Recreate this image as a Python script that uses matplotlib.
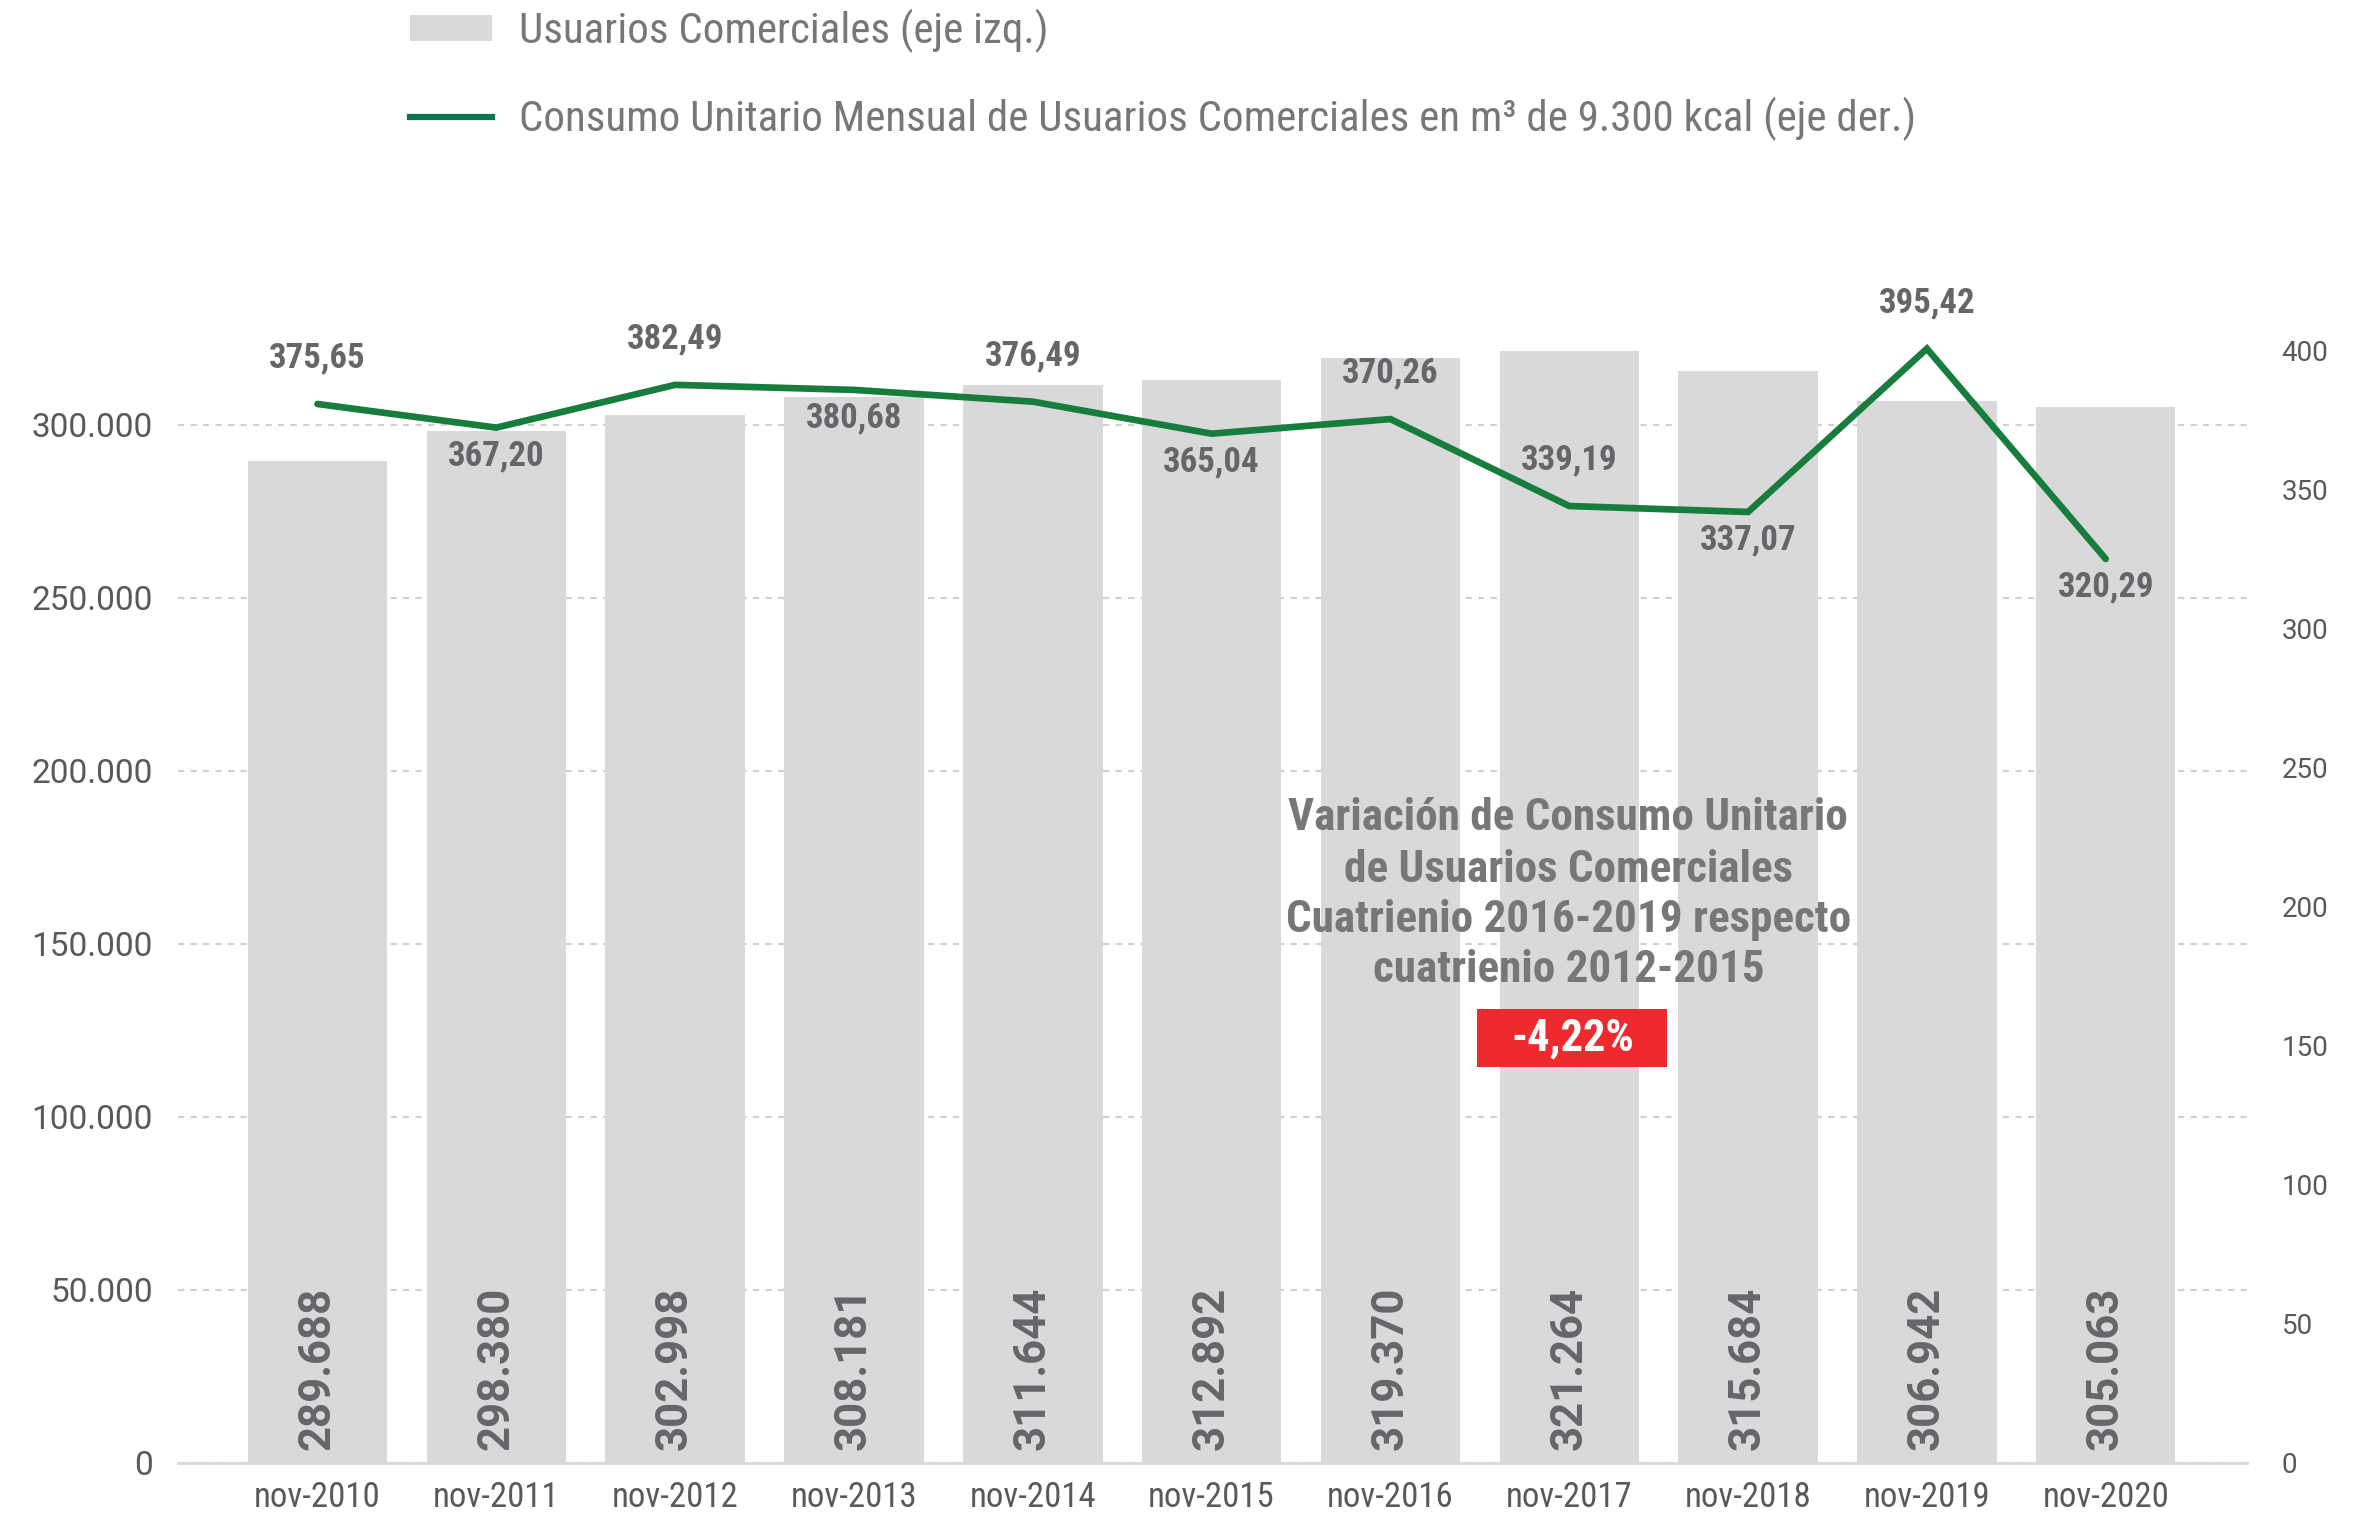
import matplotlib
matplotlib.use('Agg')
import matplotlib.pyplot as plt
from matplotlib import font_manager
from matplotlib.patches import Patch, Rectangle
from matplotlib.lines import Line2D
import numpy as np

# Data
categories = ['nov-2010', 'nov-2011', 'nov-2012', 'nov-2013', 'nov-2014', 'nov-2015',
              'nov-2016', 'nov-2017', 'nov-2018', 'nov-2019', 'nov-2020']
usuarios = [289688, 298380, 302998, 308181, 311644, 312892,
            319370, 321264, 315684, 306942, 305063]
consumo = [375.65, 367.20, 382.49, 380.68, 376.49, 365.04,
           370.26, 339.19, 337.07, 395.42, 320.29]
label_side = ['above', 'below', 'above', 'below', 'above', 'below',
              'above', 'above', 'below', 'above', 'below']
left_ticks = [0, 50000, 100000, 150000, 200000, 250000, 300000]
right_ticks = [0, 50, 100, 150, 200, 250, 300, 350, 400]
legend_labels = ['Usuarios Comerciales (eje izq.)',
                 'Consumo Unitario Mensual de Usuarios Comerciales en m³ de 9.300 kcal (eje der.)']
note_lines = ['Variación de Consumo Unitario',
              'de Usuarios Comerciales',
              'Cuatrienio 2016-2019 respecto',
              'cuatrienio 2012-2015']
variacion = '-4,22%'

# Colours / fonts
BAR = '#d9d9d9'
LINE = '#167d3d'
LEGEND_LINE = '#0b7752'
TXT = '#66666a'
TICK = '#595959'
NOTE = '#77777a'
RED = '#ee2a2f'

installed = {f.name for f in font_manager.fontManager.ttflist}
base_font = 'Roboto' if 'Roboto' in installed else 'DejaVu Sans'
cond_font = 'Roboto Condensed' if 'Roboto Condensed' in installed else base_font
plt.rcParams['font.family'] = [base_font, 'DejaVu Sans']


def miles(v):
    return f"{v:,}".replace(',', '.')


def decimal(v):
    return f"{v:.2f}".replace('.', ',')


fig = plt.figure(figsize=(23.73, 15.14), dpi=100)
ax = fig.add_axes([0.0750, 0.0337, 0.8719, 0.7345])
x = np.arange(len(categories))

# Bars (left axis)
ax.bar(x, usuarios, width=0.78, color=BAR, zorder=2)
ax.set_xlim(-0.78, 10.79)
ax.set_ylim(0, 321400)
ax.set_yticks(left_ticks)
ax.set_yticklabels([miles(v) for v in left_ticks], family=base_font)
ax.set_xticks(x)
ax.set_xticklabels(categories, family=cond_font)
ax.yaxis.grid(True, linestyle=(0, (3, 3)), color='#d0d0d0', linewidth=1.5)
ax.set_axisbelow(True)
for s in ['top', 'left', 'right']:
    ax.spines[s].set_visible(False)
ax.spines['bottom'].set_color('#d9d9d9')
ax.spines['bottom'].set_linewidth(2)
ax.tick_params(axis='y', length=0, pad=18, labelsize=24, labelcolor=TICK)
ax.tick_params(axis='x', length=0, pad=13, labelsize=25, labelcolor=TICK)

for i, v in enumerate(usuarios):
    ax.annotate(miles(v), (x[i], 0), xytext=(0, 9), textcoords='offset points',
                rotation=90, ha='center', va='bottom', fontsize=31.5,
                fontweight='bold', color=TXT, family=base_font)

# Right axis: ticks 0-400
ax2 = ax.twinx()
ax2.set_ylim(0, 400)
ax2.set_yticks(right_ticks)
ax2.set_yticklabels([str(v) for v in right_ticks], family=base_font)
ax2.tick_params(axis='y', length=0, pad=25, labelsize=20, labelcolor=TICK)
for s in ax2.spines.values():
    s.set_visible(False)

# the line sits slightly off the printed right scale in the original
ax3 = ax.twinx()
ax3.set_ylim(-2.7, 394.6)
ax3.set_yticks([])
for s in ax3.spines.values():
    s.set_visible(False)
ax3.plot(x, consumo, color=LINE, linewidth=4.8, solid_capstyle='round',
         solid_joinstyle='miter', clip_on=False, zorder=3)

for i, v in enumerate(consumo):
    dy = 33 if label_side[i] == 'above' else -20
    ax3.annotate(decimal(v), (x[i], v), xytext=(0, dy), textcoords='offset points',
                 ha='center', va='center', fontsize=25, fontweight='bold',
                 color=TXT, family=cond_font, annotation_clip=False)

# Note block
note_y = [0.5796, 0.5333, 0.4884, 0.4435]
for line, yy in zip(note_lines, note_y):
    ax3.text(0.672, yy, line, transform=ax3.transAxes, ha='center', va='center',
             fontsize=32.5, fontweight='bold', color=NOTE, family=cond_font)
ax3.add_patch(Rectangle((0.6277, 0.3565), 0.0921, 0.0517, transform=ax3.transAxes,
                        facecolor=RED, edgecolor='none', zorder=4))
ax3.text(0.674, 0.382, variacion, transform=ax3.transAxes, ha='center', va='center',
         fontsize=32, fontweight='bold', color='white', family=cond_font, zorder=5)

# Legend
handles = [Patch(facecolor=BAR, edgecolor='none'),
           Line2D([0], [0], color=LEGEND_LINE, linewidth=4.5)]
fig.legend(handles, legend_labels, loc='upper left',
           bbox_to_anchor=(410 / 2373, 1 - 9 / 1514), frameon=False,
           handlelength=1.9, handleheight=0.56, handletextpad=0.63,
           labelspacing=1.02, borderpad=0, borderaxespad=0, labelcolor=NOTE,
           prop={'family': cond_font, 'size': 31})

fig.savefig('out.png', dpi=100)
